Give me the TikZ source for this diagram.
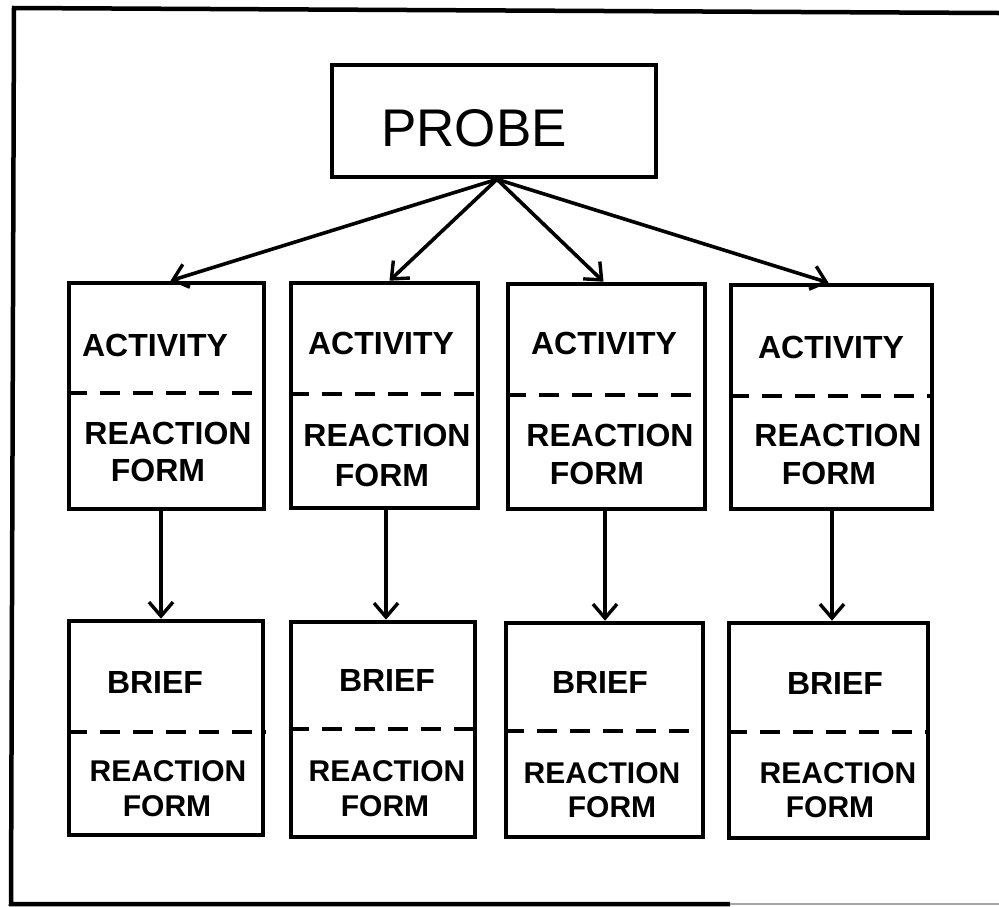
\documentclass[tikz,border=0pt]{standalone}
\usepackage{fontspec}
\setmainfont{Liberation Sans}
\usetikzlibrary{arrows.meta}
\begin{document}
\begin{tikzpicture}[x=1pt,y=-1pt,
  frm/.style={draw, line width=4.6pt, inner sep=0pt, rectangle},
  divider/.style={line width=4pt, dash pattern=on 20pt off 13pt},
  arr/.style={line width=3.6pt, -{Straight Barb[length=14pt,width=24pt,line width=3.4pt]}},
  lab/.style={inner sep=0pt, font=\fontsize{32}{34}\selectfont\bfseries},
  labs/.style={inner sep=0pt, font=\fontsize{30}{32}\selectfont\bfseries},
  big/.style={inner sep=0pt, font=\fontsize{53}{55}\selectfont}]
\useasboundingbox (0,0) rectangle (999,906);
% outer frame (open on the right)
\coordinate (ftr) at (999,13);
\coordinate (ftl) at (14,8);
\coordinate (fbl) at (11,904);
\coordinate (fbm) at (730,904);
\coordinate (fbr) at (999,904);
\draw[line width=4.5pt, line join=miter] (ftr) -- (ftl) -- (fbl) -- (fbm);
\draw[line width=2pt, black!35] (fbm) -- (fbr);
% probe
\node[frm, minimum width=324pt, minimum height=112pt] (probe) at (494,121) {};
\node[big] (probet) at (474,128) {PROBE};
% activity boxes
\node[frm, minimum width=195pt, minimum height=226pt] (a1) at (166.5,396) {};
\node[frm, minimum width=187pt, minimum height=225pt] (a2) at (384.5,395.5) {};
\node[frm, minimum width=197pt, minimum height=225pt] (a3) at (606.5,396.5) {};
\node[frm, minimum width=201pt, minimum height=224pt] (a4) at (831.5,397) {};
% brief boxes
\node[frm, minimum width=194pt, minimum height=214pt] (b1) at (166,728) {};
\node[frm, minimum width=184pt, minimum height=215pt] (b2) at (383,729.5) {};
\node[frm, minimum width=197pt, minimum height=214pt] (b3) at (604.5,730) {};
\node[frm, minimum width=199pt, minimum height=215pt] (b4) at (828.5,730.5) {};
% dashed dividers
\draw[divider] (a1.west |- 0,393) -- (a1.east |- 0,393);
\draw[divider] (a2.west |- 0,394) -- (a2.east |- 0,394);
\draw[divider] (a3.west |- 0,395) -- (a3.east |- 0,395);
\draw[divider] (a4.west |- 0,396) -- (a4.east |- 0,396);
\draw[divider] (b1.west |- 0,732) -- (b1.east |- 0,732);
\draw[divider] (b2.west |- 0,729) -- (b2.east |- 0,729);
\draw[divider] (b3.west |- 0,731) -- (b3.east |- 0,731);
\draw[divider] (b4.west |- 0,732) -- (b4.east |- 0,732);
% labels, activity row
\node[lab] (a1t) at (155,345) {ACTIVITY};
\node[lab] (a1r) at (168,433) {REACTION};
\node[lab] (a1f) at (158,470) {FORM};
\node[lab] (a2t) at (381,343) {ACTIVITY};
\node[lab] (a2r) at (387,435) {REACTION};
\node[lab] (a2f) at (382,475) {FORM};
\node[lab] (a3t) at (604,343) {ACTIVITY};
\node[lab] (a3r) at (610,435) {REACTION};
\node[lab] (a3f) at (597,473) {FORM};
\node[lab] (a4t) at (831,347) {ACTIVITY};
\node[lab] (a4r) at (838,435) {REACTION};
\node[lab] (a4f) at (829,473) {FORM};
% labels, brief row
\node[lab] (b1t) at (155,682) {BRIEF};
\node[labs] (b1r) at (168,771) {REACTION};
\node[labs] (b1f) at (167,806) {FORM};
\node[lab] (b2t) at (387,680) {BRIEF};
\node[labs] (b2r) at (387,771) {REACTION};
\node[labs] (b2f) at (385,806) {FORM};
\node[lab] (b3t) at (600,682) {BRIEF};
\node[labs] (b3r) at (602,773) {REACTION};
\node[labs] (b3f) at (612,807) {FORM};
\node[lab] (b4t) at (835,683) {BRIEF};
\node[labs] (b4r) at (838,773) {REACTION};
\node[labs] (b4f) at (830,807) {FORM};
% arrows from probe
\draw[arr] ([xshift=3pt]probe.south) -- ([xshift=4pt]a1.north);
\draw[arr] ([xshift=3pt]probe.south) -- ([xshift=5pt]a2.north);
\draw[arr] ([xshift=3pt]probe.south) -- ([xshift=-3pt]a3.north);
\draw[arr] ([xshift=3pt]probe.south) -- ([xshift=-3pt]a4.north);
% arrows down to brief boxes
\draw[arr] ([xshift=-5.5pt]a1.south) -- ([xshift=-5pt]b1.north);
\draw[arr] ([xshift=1.5pt]a2.south) -- ([xshift=3pt]b2.north);
\draw[arr] ([xshift=-1.5pt]a3.south) -- ([xshift=0.5pt]b3.north);
\draw[arr] ([xshift=0.5pt]a4.south) -- ([xshift=3.5pt]b4.north);
\end{tikzpicture}
\end{document}
